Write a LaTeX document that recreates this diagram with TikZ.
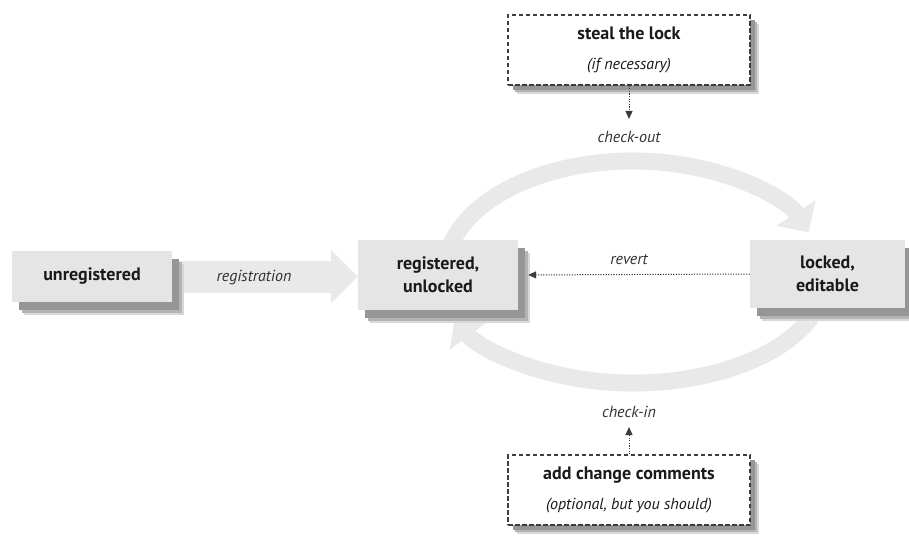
\documentclass[tikz,border=0pt]{standalone}
\usepackage{fontspec}
\setmainfont{PT Sans}
\usetikzlibrary{arrows.meta,shadows}
\pgfdeclarelayer{background}
\pgfsetlayers{background,main}
\definecolor{boxfill}{HTML}{E5E5E5}
\definecolor{flow}{HTML}{E9E9E9}
\definecolor{shadowdark}{HTML}{969696}
\definecolor{shadowmid}{HTML}{B4B4B4}
\definecolor{shadowlight}{HTML}{D8D8D8}
\definecolor{ink}{HTML}{1A1A1A}
\begin{document}
\begin{tikzpicture}[x=1pt,y=-1pt,
  boxshadow/.style={
    general shadow={fill=shadowlight, draw=none, shadow xshift=12pt, shadow yshift=-13pt},
    general shadow={fill=shadowmid, draw=none, shadow xshift=10pt, shadow yshift=-11pt},
    general shadow={fill=shadowdark, draw=none, shadow xshift=7pt, shadow yshift=-8pt}},
  notshadow/.style={
    general shadow={fill=shadowlight, draw=none, shadow xshift=9pt, shadow yshift=-9pt},
    general shadow={fill=shadowmid, draw=none, shadow xshift=7pt, shadow yshift=-7pt},
    general shadow={fill=shadowdark, draw=none, shadow xshift=5pt, shadow yshift=-5pt}},
  state/.style={boxshadow, fill=boxfill, inner sep=0pt, align=center,
    font=\fontsize{18}{23}\selectfont\bfseries, text=ink},
  notebox/.style={notshadow, fill=white, draw=ink!85, dash pattern=on 4.5pt off 2.5pt,
    line width=1.1pt, inner sep=0pt, align=center, text=ink,
    font=\fontsize{18}{30}\selectfont},
  lbl/.style={font=\fontsize{16}{18}\selectfont\itshape, text=ink!90, inner sep=1pt},
  fat/.style={draw=flow, line width=17pt, -{Triangle[width=46pt,length=23pt]}},
  dotarrow/.style={draw=ink!85, line width=1pt, dash pattern=on 1.2pt off 1.4pt,
    -{Triangle[width=7pt,length=8pt]}}
]
\useasboundingbox (0,0) rectangle (909,537);

% states
\node[state, minimum width=160pt, minimum height=51pt] (unreg) at (92,276.5) {unregistered};
\node[state, minimum width=160pt, minimum height=70pt] (reg) at (438,275) {registered,\\unlocked};
\node[state, minimum width=155pt, minimum height=68pt] (lock) at (827.5,274) {locked,\\editable};

% notes
\node[notebox, minimum width=242pt, minimum height=70pt] (steal) at (629,50)
  {{\bfseries steal the lock}\\{\fontsize{16}{30}\selectfont\itshape (if necessary)}};
\node[notebox, minimum width=242pt, minimum height=70pt] (addc) at (629,490)
  {{\bfseries add change comments}\\{\fontsize{16}{30}\selectfont\itshape (optional, but you should)}};

% big flow arrows (behind boxes)
\coordinate (ctop) at (633,272);
\coordinate (cbot) at (633,278);
\begin{pgfonlayer}{background}
  \draw[fat, line width=32pt, -{Triangle[width=52pt,length=27pt]}]
    (unreg.east) -- (reg.west |- unreg.east);
  \draw[fat] (ctop) ++(195:188 and 111)
    arc[start angle=195, end angle=339, x radius=188, y radius=111];
  \draw[fat] (cbot) ++(18:192 and 105)
    arc[start angle=18, end angle=158, x radius=192, y radius=105];
\end{pgfonlayer}

% labels
\node[lbl] (lreg) at (254,278) {registration};
\node[lbl] (lco) at (629,137) {check-out};
\node[lbl] (lci) at (629,412) {check-in};
\node[lbl] (lrev) at (629,260) {revert};

% dotted connectors
\coordinate (cotip) at (629,119);
\coordinate (citip) at (629,427);
\draw[dotarrow] (steal.south) -- (cotip);
\draw[dotarrow] (addc.north) -- (citip);
\draw[dotarrow, shorten >=10pt] (lock.west) -- (reg.east);
\end{tikzpicture}
\end{document}
